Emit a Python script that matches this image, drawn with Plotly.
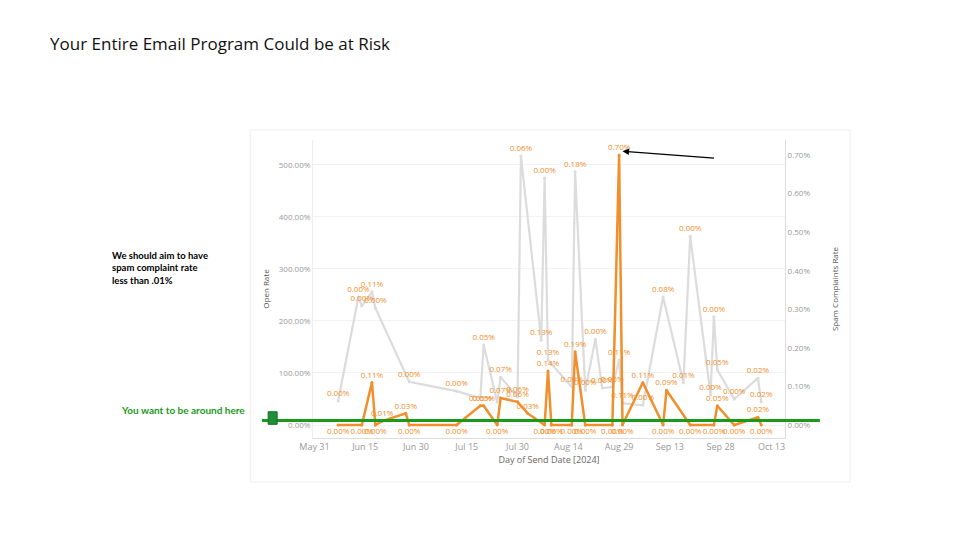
import plotly.graph_objects as go

open_dates = ["2024-06-07","2024-06-13","2024-06-14","2024-06-17","2024-06-18","2024-06-28","2024-07-12","2024-07-19","2024-07-20","2024-07-24","2024-07-25","2024-07-30","2024-07-31","2024-08-06","2024-08-07","2024-08-08","2024-08-15","2024-08-16","2024-08-19","2024-08-22","2024-08-24","2024-08-27","2024-08-29","2024-08-30","2024-09-05","2024-09-11","2024-09-17","2024-09-19","2024-09-25","2024-09-26","2024-09-27","2024-10-02","2024-10-09","2024-10-10"]
open_rate = [46,246,229,256,225,83,65,52,154,44,92,54,517,163,475,125,73,487,67,165,71,73,125,42,38,246,81,363,58,208,106,50,90,44]
open_labels = ["0.00%","0.00%","0.00%","0.11%","0.00%","0.00%","0.00%","","0.05%","","0.07%","0.06%","0.06%","0.13%","0.00%","0.13%","0.00%","0.18%","0.00%","0.00%","0.00%","0.00%","0.11%","0.11%","0.00%","0.08%","0.01%","0.00%","0.00%","0.00%","0.05%","0.00%","0.02%","0.02%"]

spam_dates = ["2024-06-07","2024-06-14","2024-06-17","2024-06-18","2024-06-20","2024-06-27","2024-06-28","2024-07-12","2024-07-19","2024-07-20","2024-07-24","2024-07-25","2024-07-30","2024-08-02","2024-08-07","2024-08-08","2024-08-09","2024-08-15","2024-08-16","2024-08-19","2024-08-27","2024-08-29","2024-08-30","2024-09-05","2024-09-11","2024-09-12","2024-09-19","2024-09-26","2024-09-27","2024-10-02","2024-10-09","2024-10-10"]
spam_rate = [0,0,0.11,0,0.01,0.03,0,0,0.05,0.05,0,0.07,0.06,0.03,0,0.14,0,0,0.19,0,0,0.70,0,0.11,0,0.09,0,0,0.05,0,0.02,0]

tick_vals = ["2024-05-31","2024-06-15","2024-06-30","2024-07-15","2024-07-30","2024-08-14","2024-08-29","2024-09-13","2024-09-28","2024-10-13"]
tick_text = ["May 31","Jun 15","Jun 30","Jul 15","Jul 30","Aug 14","Aug 29","Sep 13","Sep 28","Oct 13"]
left_ticks = [0,100,200,300,400,500]
right_ticks = [0,0.1,0.2,0.3,0.4,0.5,0.6,0.7]

ORANGE = "#f28e2b"
fig = go.Figure()
fig.add_trace(go.Scatter(x=open_dates, y=open_rate, mode="lines+markers+text", text=open_labels,
    textposition="top center", textfont=dict(size=8, color=ORANGE),
    line=dict(color="#dcdcdc", width=2.2), marker=dict(size=3, color="#dcdcdc"), showlegend=False))
fig.add_trace(go.Scatter(x=spam_dates, y=spam_rate, yaxis="y2", mode="lines+markers+text",
    text=[f"{v:.2f}%" for v in spam_rate],
    textposition=["bottom center" if v == 0 else "top center" for v in spam_rate],
    textfont=dict(size=8, color=ORANGE),
    line=dict(color=ORANGE, width=2.5), marker=dict(size=3, color=ORANGE), showlegend=False))

fig.update_layout(
    width=960, height=540, paper_bgcolor="white", plot_bgcolor="white",
    margin=dict(l=305, r=183, t=132, b=110, autoexpand=False),
    font=dict(family="Open Sans", color="#777"),
    xaxis=dict(range=["2024-05-30 14:00","2024-10-17"], tickvals=tick_vals, ticktext=tick_text,
               tickfont=dict(size=9, color="#999"), showgrid=False, showline=True, linecolor="#ddd",
               title=dict(text="Day of Send Date [2024]", font=dict(size=9, color="#666"), standoff=4)),
    yaxis=dict(range=[-25,548], tickvals=left_ticks, ticktext=[f"{v:.2f}%" for v in left_ticks],
               tickfont=dict(size=8, color="#999"), gridcolor="#f3f3f3", zeroline=False,
               showline=True, linecolor="#eee",
               title=dict(text="Open Rate", font=dict(size=8, color="#555"), standoff=8)),
    yaxis2=dict(range=[-0.0337,0.739], overlaying="y", side="right", tickvals=right_ticks,
                ticktext=[f"{v:.2f}%" for v in right_ticks], tickfont=dict(size=8, color="#999"),
                showgrid=False, zeroline=False, showline=True, linecolor="#ddd",
                title=dict(text="Spam Complaints Rate", font=dict(size=8, color="#555"), standoff=22)),
)
fig.add_shape(type="rect", xref="paper", yref="paper", x0=-0.133, x1=1.138, y0=-0.148, y1=1.034,
              line=dict(color="#eee", width=1), layer="below")
fig.add_shape(type="line", xref="paper", yref="y2", x0=-0.108, x1=1.074, y0=0.012, y1=0.012,
              line=dict(color="#1a9a1a", width=3))
fig.add_shape(type="rect", xref="paper", yref="paper", x0=-0.095, x1=-0.076, y0=0.046, y1=0.088,
              fillcolor="#1f8f3a", line=dict(color="#136b28", width=1))
fig.add_annotation(xref="paper", yref="paper", x=-0.14, y=0.066, xanchor="right", showarrow=False,
                   text="<b>You want to be around here</b>", font=dict(size=10, color="#1a9a1a", family="Lato"))
fig.add_annotation(xref="paper", yref="paper", x=-0.43, y=0.57, xanchor="left", align="left", showarrow=False,
                   text="<b>We should aim to have<br>spam complaint rate<br>less than .01%</b>",
                   font=dict(size=9.5, color="black", family="Lato"))
fig.add_annotation(x="2024-08-30", y=0.71, yref="y2", ax=93, ay=7, axref="pixel", ayref="pixel",
                   showarrow=True, arrowhead=2, arrowwidth=1.3, arrowcolor="black", text="")
fig.add_annotation(xref="paper", yref="paper", x=-0.562, y=1.325, xanchor="left", yanchor="middle",
                   showarrow=False, text="Your Entire Email Program Could be at Risk",
                   font=dict(size=17, color="#111", family="Open Sans"))
fig.write_html("out.html")
